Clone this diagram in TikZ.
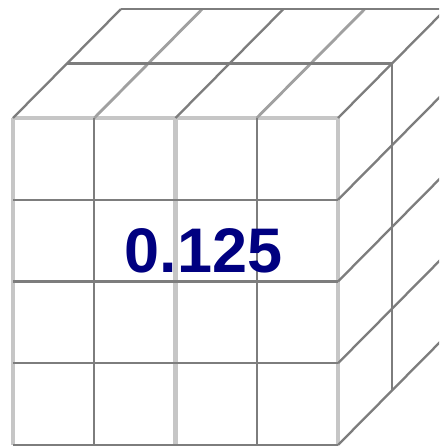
\documentclass[tikz,border=0pt]{standalone}
\usepackage{fontspec}
\setmainfont{Liberation Sans}
\definecolor{navytxt}{RGB}{0,0,128}
\definecolor{dkgray}{RGB}{125,125,125}
\definecolor{ltgray}{RGB}{198,198,198}
\definecolor{mdgray}{RGB}{160,160,160}
\begin{document}
\begin{tikzpicture}[x=1pt,y=-1pt,
  dk/.style={draw=dkgray,line width=2.3pt},
  lt/.style={draw=ltgray,line width=4.5pt},
  md/.style={draw=mdgray,line width=2.8pt},
  lbl/.style={font=\fontsize{63}{63}\selectfont\bfseries,text=navytxt,inner sep=0pt,anchor=base}]
\useasboundingbox (0,0) rectangle (439,447);
\clip (0,0) rectangle (439,447);
\fill[white] (0,0) rectangle (439,447);
% light lines of the front face
\draw[lt] (13,118) -- (338,118);
\foreach \i in {0,2,4} \draw[lt] ({13+81.25*\i},118) -- ({13+81.25*\i},445);
% medium top diagonals
\foreach \i in {1,3} \draw[md] ({13+81.25*\i},118) -- ({13+81.25*\i+108},9);
% dark front verticals
\foreach \i in {1,3} \draw[dk] ({13+81.25*\i},118) -- ({13+81.25*\i},445);
% dark front horizontals
\foreach \j in {1,...,4} \draw[dk] (13,{118+81.75*\j}) -- (338,{118+81.75*\j});
% dark top diagonals
\foreach \i in {0,2,4} \draw[dk] ({13+81.25*\i},118) -- ({13+81.25*\i+108},9);
% top horizontals
\foreach \d in {1,2} \draw[dk] ({13+54*\d},{118-54.5*\d}) -- ({338+54*\d},{118-54.5*\d});
% right face diagonals
\foreach \j in {1,...,4} \draw[dk] (338,{118+81.75*\j}) -- (446,{9+81.75*\j});
% right face verticals
\foreach \d in {1,2} \draw[dk] ({338+54*\d},{118-54.5*\d}) -- ({338+54*\d},{445-54.5*\d});
\node[lbl] (val) at (203.5,272) {0.125};
\end{tikzpicture}
\end{document}
